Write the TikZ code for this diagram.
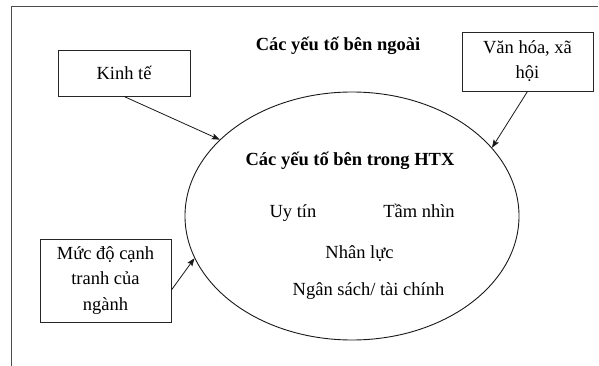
\documentclass[tikz,border=0pt]{standalone}
\usepackage{fontspec}
\setmainfont{Liberation Serif}
\usetikzlibrary{shapes.geometric,arrows.meta}
\tikzset{
  frameline/.style={draw=black!70, line width=0.9pt},
  box/.style={draw=black!85, line width=0.9pt, align=center, inner sep=0pt, font=\fontsize{18.5}{25.2}\selectfont},
  lbl/.style={anchor=base, inner sep=0pt, font=\fontsize{18.5}{25.2}\selectfont},
  blbl/.style={lbl, font=\fontsize{18.5}{25.2}\selectfont\bfseries},
  conn/.style={draw=black!90, line width=0.8pt, -{Stealth[length=8pt,width=6pt,inset=1.5pt]}},
}
\begin{document}
\begin{tikzpicture}[x=1pt,y=-1pt]
\useasboundingbox (0,0) rectangle (599,366);
\draw[frameline] (11,366) -- (11,6) -- (598,6);

\node[ellipse, draw=black!90, line width=0.9pt, minimum width=334pt, minimum height=248pt, inner sep=0pt] (ell) at (352,216) {};

\node[box, minimum width=132pt, minimum height=46pt] (kinh) at (124,73) {Kinh tế};
\node[box, minimum width=131pt, minimum height=59pt] (van) at (527.5,61.5) {Văn hóa, xã\\hội};
\node[box, minimum width=131pt, minimum height=83pt] (muc) at (105.5,280.5) {Mức độ cạnh\\tranh của\\ngành};

\node[blbl] (outer) at (338,51) {Các yếu tố bên ngoài};
\node[blbl] (inner) at (350,166) {Các yếu tố bên trong HTX};
\node[lbl] (uy) at (293,217) {Uy tín};
\node[lbl] (tam) at (419,217) {Tầm nhìn};
\node[lbl] (nhan) at (359.5,258) {Nhân lực};
\node[lbl] (ngan) at (368.5,295) {Ngân sách/ tài chính};

\draw[conn] (kinh.south) -- (ell.150);
\draw[conn] (van.south) -- (ell.26);
\draw[conn] ([yshift=-9.5pt]muc.east) -- (ell.195.6);
\end{tikzpicture}
\end{document}
